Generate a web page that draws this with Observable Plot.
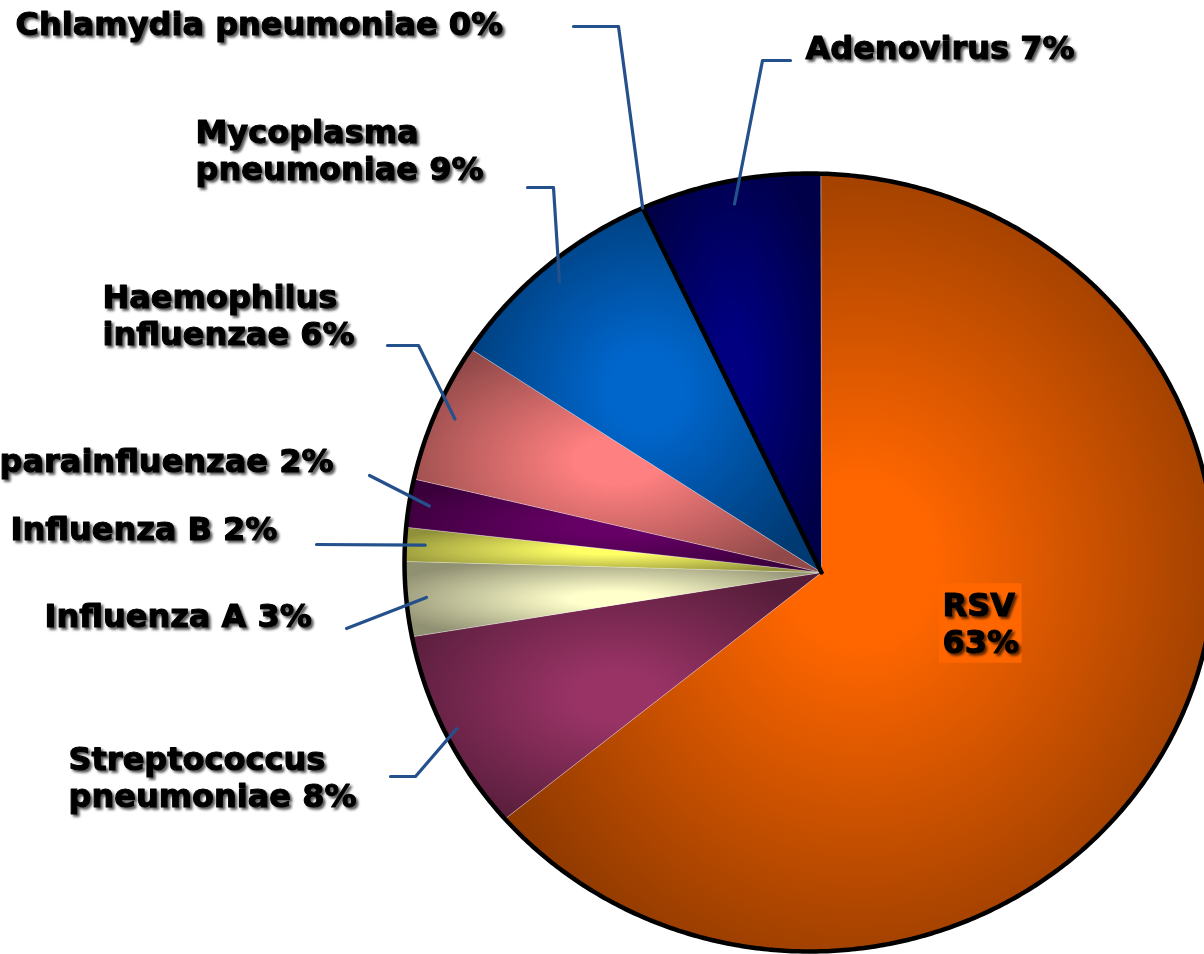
<!DOCTYPE html>
<html>
<head>
<meta charset="utf-8">
<script src="https://cdn.jsdelivr.net/npm/d3@7"></script>
<script src="https://cdn.jsdelivr.net/npm/@observablehq/plot@0.6"></script>
<style>
  body { margin: 0; background: #ffffff; }
  #chart svg { display: block; background: #ffffff; }
</style>
</head>
<body>
<div id="chart"></div>
<script>
// ---------------- DATA ----------------
const categories = [
  "RSV",
  "Streptococcus pneumoniae",
  "Influenza A",
  "Influenza B",
  "Haemophilus parainfluenzae",
  "Haemophilus influenzae",
  "Mycoplasma pneumoniae",
  "Chlamydia pneumoniae",
  "Adenovirus"
];
const values = [63.1, 8.4, 3.1, 1.4, 2.0, 5.8, 9.0, 0.0, 7.2];
const labelTexts = [
  "RSV\n63%",
  "Streptococcus\npneumoniae 8%",
  "Influenza A 3%",
  "Influenza B 2%",
  "parainfluenzae 2%",
  "Haemophilus\ninfluenzae 6%",
  "Mycoplasma\npneumoniae 9%",
  "Chlamydia pneumoniae 0%",
  "Adenovirus 7%"
];

// ---------------- STYLE / LAYOUT ----------------
const sliceColors = ["#ff6600", "#993366", "#ffffcc", "#ffff66", "#660066", "#ff8080", "#0066cc", "#ccccff", "#000080"];
const startDeg = 1.6;                 // first slice starts just right of 12 o'clock
const apex = {x: 0.0296, y: -0.0257}; // wedge apex (unit ellipse coords)
// leader: radial fraction of its inner end, then bend/end points (unit coords)
const leaderR = [null, 0.97, 0.95, 0.95, 0.95, 0.95, 0.95, 1.0, 0.94];
const leaderBends = [
  [],
  [[-0.9728, -0.5501], [-1.0346, -0.5501]],
  [[-1.1432, -0.1697]],
  [[-1.2173, 0.0463]],
  [[-1.0864, 0.2237]],
  [[-0.9654, 0.5578], [-1.0420, 0.5578]],
  [[-0.6321, 0.9640], [-0.6963, 0.9640]],
  [[-0.4716, 1.3779], [-0.5827, 1.3779]],
  [[-0.1160, 1.2905], [-0.0469, 1.2905]]
];
const labelPos = [
  [0.3284, -0.1542], [-1.8296, -0.5501], [-1.8889, -0.1362], [-1.9728, 0.0874],
  [-1.1753, 0.2622], [-1.7457, 0.6375], [-1.5160, 1.0617], [-1.9605, 1.3856], [-0.0099, 1.3239]
];
const labelAnchor = ["start", "start", "start", "start", "end", "start", "start", "start", "start"];

// ---------------- GEOMETRY FROM DATA ----------------
const start = startDeg * Math.PI / 180;
const arcs = d3.pie().sort(null).value(d => d).startAngle(start).endAngle(start + 2 * Math.PI)(values);

const slicePts = [];
arcs.forEach((a, i) => {
  const n = Math.max(1, Math.ceil((a.endAngle - a.startAngle) / (Math.PI / 720)));
  slicePts.push({key: i, value: values[i], x: apex.x, y: apex.y});
  for (let k = 0; k <= n; k++) {
    const t = a.startAngle + (a.endAngle - a.startAngle) * k / n;
    slicePts.push({key: i, value: values[i], x: Math.sin(t), y: Math.cos(t)});
  }
  slicePts.push({key: i, value: values[i], x: apex.x, y: apex.y});
});

const outline = d3.range(0, 721).map(k => {
  const t = k / 720 * 2 * Math.PI;
  return {x: Math.sin(t), y: Math.cos(t)};
});

const leaderPts = [];
arcs.forEach((a, i) => {
  if (leaderR[i] == null) return;
  const m = (a.startAngle + a.endAngle) / 2;
  leaderPts.push({key: i, x: leaderR[i] * Math.sin(m), y: leaderR[i] * Math.cos(m)});
  leaderBends[i].forEach(([x, y]) => leaderPts.push({key: i, x, y}));
});

const labelData = labelTexts.map((t, i) => ({i, text: t, x: labelPos[i][0], y: labelPos[i][1], anchor: labelAnchor[i]}));

const textStyle = {
  fontSize: 32, fontWeight: "bold", fontFamily: "DejaVu Sans, Verdana, sans-serif",
  fill: "black", stroke: "black", strokeWidth: 1.1, paintOrder: "stroke",
  lineAnchor: "middle", lineHeight: 1.17
};

const chart = Plot.plot({
  width: 1204,
  height: 954,
  margin: 0,
  style: {background: "#ffffff", overflow: "hidden"},
  x: {domain: [-1, 1], range: [404, 1214], axis: null},
  y: {domain: [-1, 1], range: [951, 173], axis: null},
  color: {type: "identity"},
  marks: [
    Plot.line(slicePts, {
      x: "x", y: "y", z: "key",
      fill: d => `url(#slice-grad-${d.key})`,
      stroke: "#ffffff", strokeOpacity: 0.4, strokeWidth: 0.7, curve: "linear"
    }),
    Plot.line(slicePts.filter(d => d.value === 0), {
      x: "x", y: "y", z: "key", stroke: "black", strokeWidth: 4.5, curve: "linear"
    }),
    Plot.line(outline, {x: "x", y: "y", stroke: "black", strokeWidth: 4.5, curve: "linear"}),
    Plot.line(leaderPts, {x: "x", y: "y", z: "key", stroke: "#24508c", strokeWidth: 3.2, curve: "linear"}),
    Plot.text(labelData.filter(d => d.i === 0), {
      x: "x", y: "y", text: "text", textAnchor: "start", ariaDescription: "rsv-label", ...textStyle
    }),
    Plot.text(labelData.filter(d => d.i !== 0 && d.anchor === "start"), {
      x: "x", y: "y", text: "text", textAnchor: "start", ...textStyle
    }),
    Plot.text(labelData.filter(d => d.anchor === "end"), {
      x: "x", y: "y", text: "text", textAnchor: "end", ...textStyle
    })
  ]
});

document.getElementById("chart").appendChild(chart);

// ---------------- DEFS: gradients + text shadow ----------------
const svg = d3.select(chart);
const defs = svg.insert("defs", ":first-child");
sliceColors.forEach((c, i) => {
  const g = defs.append("radialGradient")
    .attr("id", `slice-grad-${i}`)
    .attr("cx", 0.5).attr("cy", 0.5).attr("r", 0.58);
  g.append("stop").attr("offset", 0).attr("stop-color", c);
  g.append("stop").attr("offset", 0.18).attr("stop-color", c);
  g.append("stop").attr("offset", 1).attr("stop-color", d3.rgb(c).darker(1.6).formatHex());
});
const f = defs.append("filter").attr("id", "tshadow")
  .attr("x", "-5%").attr("y", "-10%").attr("width", "115%").attr("height", "130%");
f.append("feDropShadow").attr("dx", 2.4).attr("dy", 2.4).attr("stdDeviation", 1.3)
  .attr("flood-color", "#000").attr("flood-opacity", 0.65);

svg.selectAll('g[aria-label="text"]').attr("filter", "url(#tshadow)");

// RSV label box
const rsvG = svg.select('g[aria-description="rsv-label"]');
if (!rsvG.empty()) {
  const bb = rsvG.node().getBBox();
  svg.insert("rect", () => rsvG.node())
    .attr("x", bb.x - 3).attr("y", bb.y - 2)
    .attr("width", bb.width + 6).attr("height", bb.height + 4)
    .attr("fill", sliceColors[0]);
}
</script>
</body>
</html>
